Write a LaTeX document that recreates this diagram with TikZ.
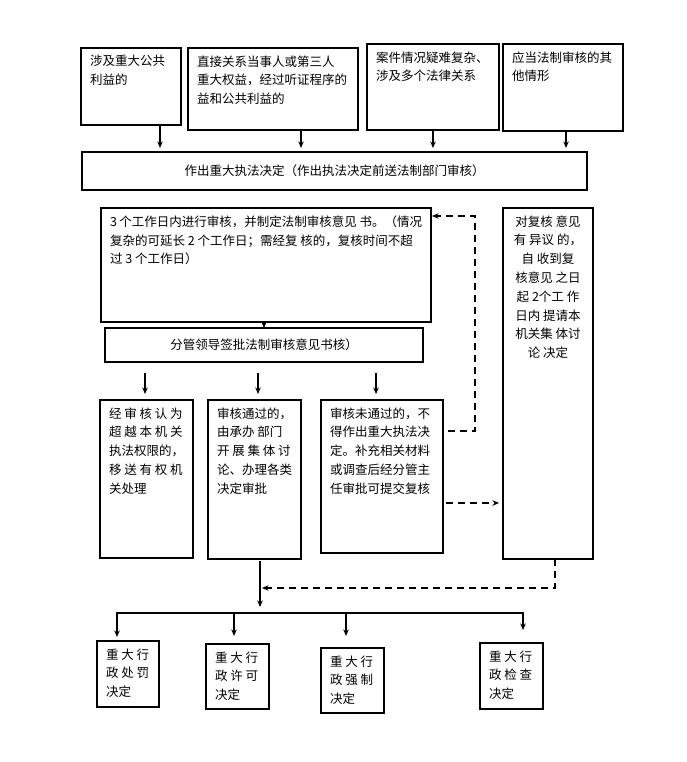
\documentclass[tikz,border=0pt]{standalone}
\usepackage{fontspec}
\setmainfont{Noto Sans CJK SC}
\usetikzlibrary{arrows.meta}
% text set at the top of a box of given width and height
\newcommand{\tb}[3]{\parbox[c][\dimexpr#2pt-15pt\relax][t]{\dimexpr#1pt-18pt\relax}{\raggedright#3}}
\newcommand{\cb}[3]{\parbox[c][\dimexpr#2pt-15pt\relax][t]{\dimexpr#1pt-18pt\relax}{\centering#3}}
\begin{document}
\begin{tikzpicture}[x=1pt, y=-1pt, font=\fontsize{12.5}{18.8}\selectfont, line join=miter, >={Stealth[length=6.5pt,width=5.5pt]},
	box/.style={draw, line width=2pt, anchor=north west, inner xsep=9pt, inner ysep=7.5pt, outer sep=0pt},
	wide/.style={draw, line width=2pt, anchor=north west, inner sep=0pt, outer sep=0pt, minimum width=#1},
	link/.style={->, line width=1.5pt},
	dlink/.style={->, line width=1.5pt, dash pattern=on 7pt off 5pt}]
	\useasboundingbox (0,0) rectangle (687,762);
	% cases
	\node[box] (a1) at (81,48) {\tb{100}{77}{涉及重大公共\\利益的}};
	\node[box] (a2) at (188,48) {\tb{170}{82}{直接关系当事人或第三人\\重大权益，经过听证程序的\\益和公共利益的}};
	\node[box] (a3) at (367,44) {\tb{132}{86}{案件情况疑难复杂、\\涉及多个法律关系}};
	\node[box] (a4) at (503,44) {\tb{120}{87}{应当法制审核的其\\他情形}};
	\node[wide=505pt, minimum height=38pt] (b) at (82,152) {作出重大执法决定（作出执法决定前送法制部门审核）};
	% review
	\node[box] (c) at (101,208) {\tb{330}{114}{3 个工作日内进行审核，并制定法制审核意见 书。（情况\\复杂的可延长 2 个工作日；需经复 核的，复核时间不超\\过 3 个工作日）}};
	\node[wide=318pt, minimum height=34pt] (d) at (105,328) {分管领导签批法制审核意见书核）};
	\node[box] (e) at (503,208) {\cb{90}{351}{对复核 意见\\有 异议 的，\\自 收到复\\核意见 之日\\起 2个工 作\\日内 提请本\\机关集 体讨\\论 决定}};
	\node[box] (f1) at (100,400) {\tb{93}{158}{经 审 核 认 为\\超 越 本 机 关\\执法权限的，\\移 送 有 权 机\\关处理}};
	\node[box] (f2) at (208,400) {\tb{93}{159}{审核通过的，\\由承办 部门\\开 展 集 体 讨\\论、办理各类\\决定审批}};
	\node[box] (f3) at (321,400) {\tb{122}{153}{审核未通过的，不\\得作出重大执法决\\定。补充相关材料\\或调查后经分管主\\任审批可提交复核}};
	% decisions
	\node[box] (g1) at (97,641) {\tb{62}{66}{重 大 行\\政 处 罚\\决定}};
	\node[box] (g2) at (206,644) {\tb{63}{65}{重 大 行\\政 许 可\\决定}};
	\node[box] (g3) at (321,648) {\tb{63}{65}{重 大 行\\政 强 制\\决定}};
	\node[box] (g4) at (480,643) {\tb{63}{66}{重 大 行\\政 检 查\\决定}};
	% connectors
	\coordinate (a1o) at ([xshift=29pt]a1.south);
	\coordinate (a2o) at ([xshift=28pt]a2.south);
	\coordinate (a4o) at ([xshift=3pt]a4.south);
	\draw[link, shorten >=4pt] (a1o) -- (a1o |- b.north);
	\draw[link, shorten >=4pt] (a2o) -- (a2o |- b.north);
	\draw[link, shorten >=4pt] (a3.south) -- (a3.south |- b.north);
	\draw[link, shorten >=4pt] (a4o) -- (a4o |- b.north);
	\draw[link] (c.south -| d.north) -- (d.north);
	\coordinate (f1i) at ([xshift=-1.5pt]f1.north);
	\coordinate (f2i) at ([xshift=3.5pt]f2.north);
	\coordinate (f3i) at ([xshift=-6pt]f3.north);
	\draw[link, shorten <=11pt, shorten >=6pt] (d.south -| f1i) -- (f1i);
	\draw[link, shorten <=11pt, shorten >=6pt] (d.south -| f2i) -- (f2i);
	\draw[link, shorten <=11pt, shorten >=6pt] (d.south -| f3i) -- (f3i);
	\draw[dlink, shorten <=5pt, shorten >=1pt] ([yshift=-31pt]f3.north east) -| ([xshift=44pt,yshift=-8pt]c.north east) -- ([yshift=-8pt]c.north east);
	\coordinate (f3r) at ([yshift=-103pt]f3.north east);
	\draw[dlink, shorten <=3pt, shorten >=4pt] (f3r) -- (f3r -| e.west);
	\coordinate (fork) at ([xshift=5.5pt]f2.south);
	\coordinate (j1) at (117,613);
	\coordinate (j2) at (234,613);
	\coordinate (j3) at (346,613);
	\coordinate (j4) at (523,613);
	\draw[link, shorten <=2pt, shorten >=6pt] (fork) -- (fork |- j1);
	\coordinate (eo) at ([xshift=7pt]e.south);
	\coordinate (back) at (262,588);
	\draw[dlink] (eo) |- (back);
	\draw[line width=1.5pt, line cap=rect] (j1) -- (j4);
	\draw[link, shorten >=4pt] (j1) -- (j1 |- g1.north);
	\draw[link, shorten >=8pt] (j2) -- (j2 |- g2.north);
	\draw[link, shorten >=12pt] (j3) -- (j3 |- g3.north);
	\draw[link, shorten >=13pt] (j4) -- (j4 |- g4.north);
\end{tikzpicture}
\end{document}
